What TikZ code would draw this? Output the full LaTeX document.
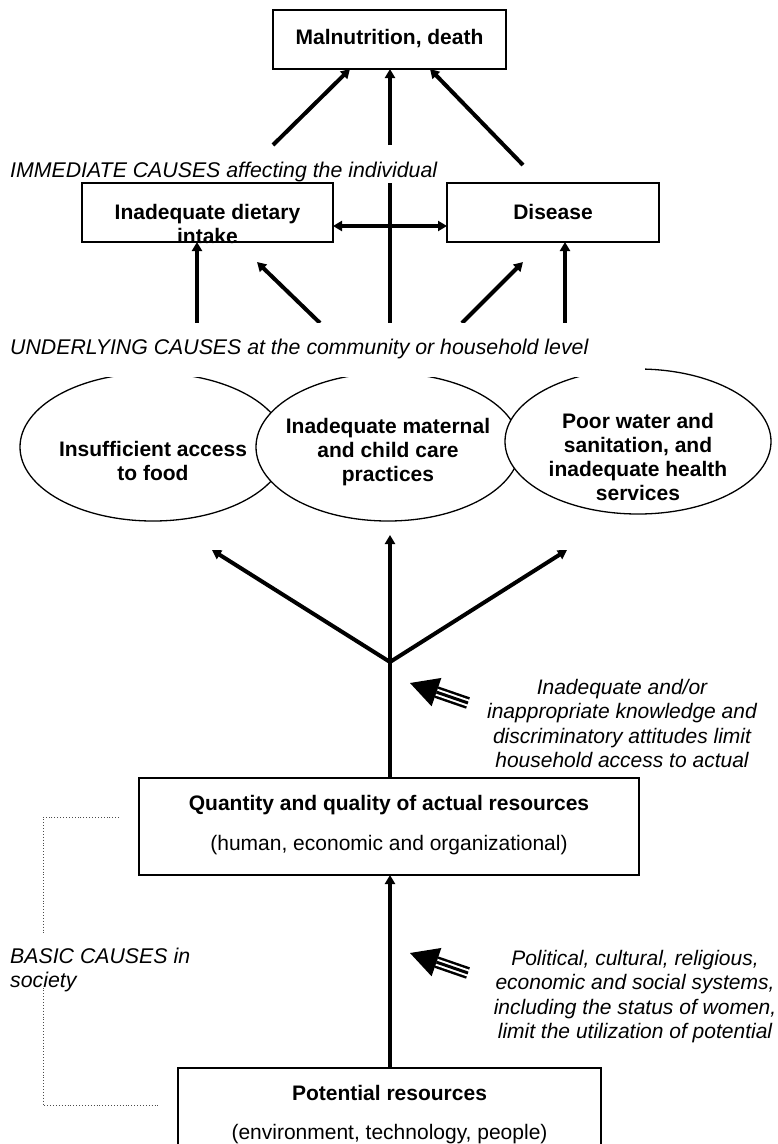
\documentclass[tikz,border=0pt]{standalone}
\usepackage{fontspec}
\setmainfont{Liberation Sans}
\usetikzlibrary{arrows.meta,calc,shapes.geometric}
\begin{document}
\begin{tikzpicture}[x=1pt,y=-1pt,
  every node/.style={inner sep=0pt},
  bx/.style={draw, line width=2pt, fill=white, rectangle, inner sep=0pt},
  el/.style={draw, line width=1.3pt, fill=white, ellipse, inner sep=0pt},
  bt/.style={font=\fontsize{21}{24}\selectfont\bfseries, align=center},
  rt/.style={font=\fontsize{21}{24}\selectfont, align=center},
  it/.style={font=\fontsize{21}{24.5}\selectfont\itshape, align=center},
  itl/.style={font=\fontsize{21.3}{24}\selectfont\itshape, align=left},
  arr/.style={line width=4pt, -{Triangle[length=9pt,width=10pt]}},
  darr/.style={line width=4pt, {Triangle[length=9pt,width=10pt]}-{Triangle[length=9pt,width=10pt]}},
  ln/.style={line width=4pt},
  brk/.style={dotted, line width=0.9pt, black!70},
]
\useasboundingbox (0,0) rectangle (778,1144);

% ---------- top box ----------
\node[bx, minimum width=233pt, minimum height=59pt] (mal) at (389.5,39.5) {};
\node[bt] (maltext) at (389.5,39) {Malnutrition, death};

% arrows into top box
\coordinate (a1s) at (273,145); \coordinate (a1e) at (350,69);
\coordinate (a2s) at (390,145); \coordinate (a2e) at (390,69);
\coordinate (a3s) at (523,165); \coordinate (a3e) at (430,69);
\draw[arr] (a1s) -- (a1e);
\draw[arr] (a2s) -- (a2e);
\draw[arr] (a3s) -- (a3e);

% immediate label
\node[itl, anchor=west] (imm) at (10,172) {IMMEDIATE CAUSES affecting the individual};

% ---------- immediate boxes ----------
\node[bx, minimum width=251pt, minimum height=59pt] (diet) at (207.5,212.5) {};
\begin{scope}
  \clip (diet.south west) rectangle (diet.north east);
  \node[bt] (diettext) at (207.5,223.5) {Inadequate dietary\\intake};
\end{scope}
\node[bx, minimum width=212pt, minimum height=59pt] (dis) at (553,212.5) {};
\node[bt] (distext) at (553,212) {Disease};

% centre line and double arrow
\coordinate (cl1) at (390,323); \coordinate (cl2) at (390,183);
\draw[ln] (cl1) -- (cl2);
\coordinate (da1) at (333,226); \coordinate (da2) at (447,226);
\draw[darr] (da1) -- (da2);

% arrows from underlying causes
\coordinate (b1s) at (197,323); \coordinate (b1e) at (197,242);
\coordinate (b2s) at (320,323); \coordinate (b2e) at (257,262);
\coordinate (b3s) at (462,323); \coordinate (b3e) at (523,262);
\coordinate (b4s) at (565,323); \coordinate (b4e) at (565,242);
\draw[arr] (b1s) -- (b1e);
\draw[arr] (b2s) -- (b2e);
\draw[arr] (b3s) -- (b3e);
\draw[arr] (b4s) -- (b4e);

% ---------- ellipses ----------
\node[el, minimum width=266pt, minimum height=148pt] (food) at (153,447) {};
\node[el, minimum width=264pt, minimum height=148pt] (care) at (388,447) {};
\node[el, minimum width=266pt, minimum height=145pt] (water) at (638,441.5) {};
\fill[white] (0,323) rectangle (645,377);
\node[itl, anchor=west] (und) at (10,349) {UNDERLYING CAUSES at the community or household level};

\node[bt] (foodtext) at (153,461) {Insufficient access\\to food};
\node[bt] (caretext) at (388,452) {Inadequate maternal\\and child care\\practices};
\node[bt] (watertext) at (638,457) {Poor water and\\sanitation, and\\inadequate health\\services};

% ---------- fork ----------
\node[bx, minimum width=500pt, minimum height=97pt] (qbox) at (389,826.5) {};
\node[bt] (qt1) at (389,805) {Quantity and quality of actual resources};
\node[rt] (qt2) at (389,845) {(human, economic and organizational)};

\coordinate (fork) at (390,662);
\coordinate (ftipL) at (212,550);
\coordinate (ftipC) at (390,535);
\coordinate (ftipR) at (567,550);
\coordinate (qtop) at (390,778);
\draw[arr] (qtop) -- (ftipC);
\draw[arr] (fork) -- (ftipL);
\draw[arr] (fork) -- (ftipR);

% triple arrow (upper)
\coordinate (tipA) at (410,683); \coordinate (tailA) at (468,703);
\coordinate (hbA) at ($(tipA)!28pt!(tailA)$);
\draw[line width=12pt] (hbA) -- (tailA);
\draw[white, line width=7pt] (hbA) -- ($(tailA)!-3pt!(hbA)$);
\draw[line width=3pt] (hbA) -- (tailA);
\fill (tipA) -- ($(hbA)!15pt!90:(tipA)$) -- ($(hbA)!15pt!-90:(tipA)$) -- cycle;

\node[it] (uptext) at (622,723.5) {Inadequate and/or\\inappropriate knowledge and\\discriminatory attitudes limit\\household access to actual};

% ---------- basic causes ----------
\node[bx, minimum width=423pt, minimum height=100pt, anchor=north] (pbox) at (389.5,1067) {};
\node[bt] (pt1) at (389.5,1093) {Potential resources};
\node[rt] (pt2) at (389.5,1134) {(environment, technology, people)};
\coordinate (ptop) at (390,1067);
\coordinate (qbot) at (390,875);
\draw[arr] (ptop) -- (qbot);

% triple arrow (lower)
\coordinate (tipB) at (410,953); \coordinate (tailB) at (468,973);
\coordinate (hbB) at ($(tipB)!28pt!(tailB)$);
\draw[line width=12pt] (hbB) -- (tailB);
\draw[white, line width=7pt] (hbB) -- ($(tailB)!-3pt!(hbB)$);
\draw[line width=3pt] (hbB) -- (tailB);
\fill (tipB) -- ($(hbB)!15pt!90:(tipB)$) -- ($(hbB)!15pt!-90:(tipB)$) -- cycle;

\node[it] (lowtext) at (635,996.5) {Political, cultural, religious,\\economic and social systems,\\including the status of women,\\limit the utilization of potential};

% bracket
\coordinate (k1) at (119,817); \coordinate (k2) at (43,817);
\coordinate (k3) at (43,1105); \coordinate (k4) at (159,1105);
\draw[brk] (k1) -- (k2) -- (k3) -- (k4);
\fill[white] (30,933) rectangle (60,987);
\node[itl, anchor=west] (basic) at (10,970) {BASIC CAUSES in\\society};
\end{tikzpicture}
\end{document}
